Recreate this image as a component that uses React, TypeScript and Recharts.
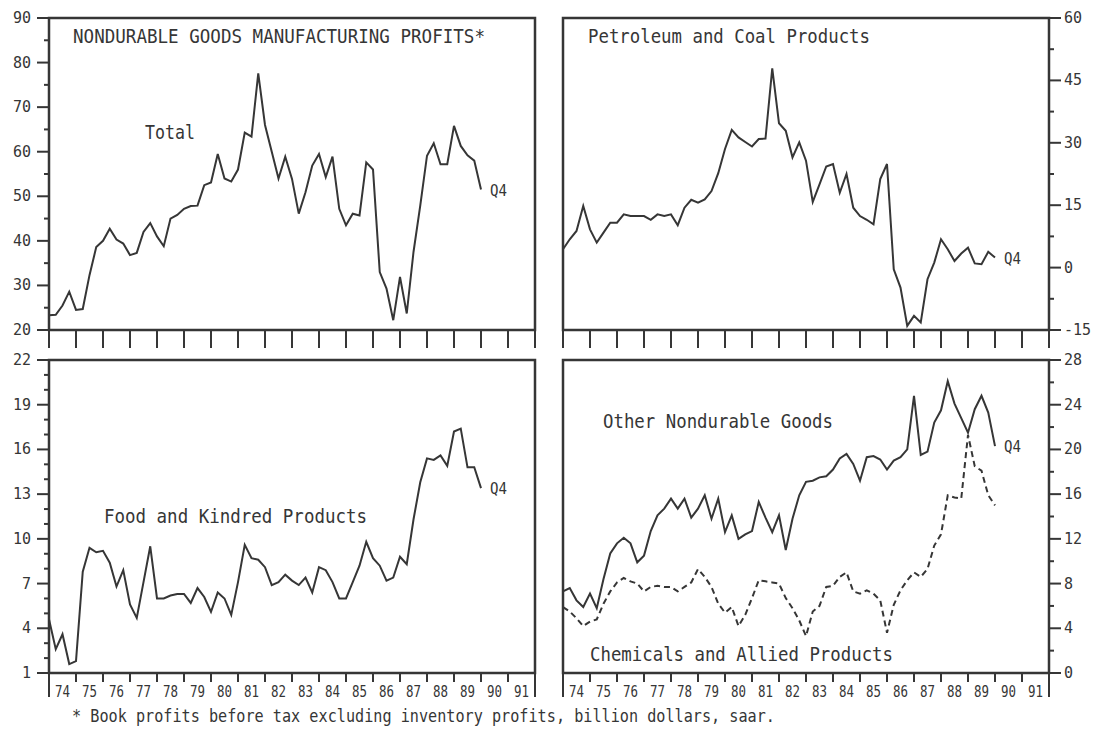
import { LineChart, Line, XAxis, YAxis, ReferenceArea } from 'recharts';

const INK = '#363636';
const FONT = '"DejaVu Sans Mono", monospace';

// quarter ends, 1973 Q4 through 1989 Q4 (74.0 = start of 1974)
const quarters = Array.from({ length: 65 }, (_, i) => 74 + i / 4);

const total = [
  23.3, 23.4, 25.5, 28.6, 24.5, 24.7, 32.3, 38.6, 40, 42.7,
  40.3, 39.4, 36.8, 37.3, 42, 44, 41, 38.8, 45, 45.8,
  47.2, 47.8, 47.9, 52.5, 53.1, 59.5, 54, 53.3, 56, 64.3,
  63.4, 77.6, 66, 60, 54, 58.9, 53.9, 46.1, 50.9, 56.9,
  59.5, 54.3, 58.9, 47.2, 43.5, 46.1, 45.7, 57.6, 56, 33,
  29.3, 22.2, 31.9, 23.7, 37.5, 47.9, 59.1, 61.9, 57.2, 57.2,
  65.8, 61.3, 59.2, 58, 51.5,
];

const petroleum = [
  4.4, 6.8, 8.8, 14.8, 9.2, 6.0, 8.4, 10.8, 10.8, 12.8,
  12.4, 12.4, 12.4, 11.5, 12.8, 12.4, 12.8, 10.2, 14.4, 16.3,
  15.6, 16.4, 18.4, 22.7, 28.5, 33.1, 31.3, 30.2, 29.1, 30.9,
  31.0, 47.9, 34.7, 32.9, 26.5, 30.1, 25.7, 15.8, 20.0, 24.3,
  24.9, 18.0, 22.5, 14.4, 12.4, 11.5, 10.4, 21.3, 24.9, -0.4,
  -4.8, -14, -11.6, -13.2, -2.8, 1.2, 6.8, 4.4, 1.6, 3.4,
  4.8, 1.0, 0.8, 3.8, 2.4,
];

const food = [
  4.6, 2.6, 3.6, 1.6, 1.8, 7.8, 9.4, 9.1, 9.2, 8.4,
  6.8, 7.9, 5.6, 4.7, 7.1, 9.5, 6.0, 6.0, 6.2, 6.3,
  6.3, 5.7, 6.7, 6.1, 5.1, 6.4, 6.0, 4.9, 7.1, 9.6,
  8.7, 8.6, 8.1, 6.9, 7.1, 7.6, 7.2, 6.9, 7.4, 6.4,
  8.1, 7.9, 7.1, 6.0, 6.0, 7.1, 8.2, 9.8, 8.7, 8.2,
  7.2, 7.4, 8.8, 8.3, 11.3, 13.8, 15.4, 15.3, 15.6, 14.9,
  17.2, 17.4, 14.8, 14.8, 13.4,
];

const other = [
  7.3, 7.6, 6.5, 5.9, 7.1, 5.8, 8.4, 10.7, 11.6, 12.1,
  11.6, 9.9, 10.5, 12.7, 14.1, 14.7, 15.6, 14.7, 15.6, 13.9,
  14.7, 15.9, 13.8, 15.6, 12.6, 14.1, 12.0, 12.4, 12.7, 15.3,
  13.9, 12.6, 14.1, 11.0, 13.8, 15.9, 17.1, 17.2, 17.5, 17.6,
  18.2, 19.2, 19.6, 18.7, 17.2, 19.3, 19.4, 19.1, 18.2, 19.0,
  19.3, 20.0, 24.8, 19.5, 19.8, 22.4, 23.5, 26.1, 24.1, 22.8,
  21.5, 23.6, 24.8, 23.3, 20.3,
];

const chemicals = [
  5.9, 5.5, 4.9, 4.2, 4.6, 4.8, 6.2, 7.3, 8.1, 8.5,
  8.2, 8.0, 7.3, 7.7, 7.8, 7.7, 7.7, 7.3, 7.7, 8.1,
  9.3, 8.6, 7.7, 6.2, 5.4, 5.9, 4.2, 5.2, 6.7, 8.3,
  8.2, 8.1, 8.0, 6.7, 5.8, 4.7, 3.3, 5.5, 6.0, 7.7,
  7.8, 8.6, 9.0, 7.3, 7.1, 7.4, 7.1, 6.5, 3.6, 6.1,
  7.4, 8.3, 9.0, 8.6, 9.3, 11.4, 12.4, 15.9, 15.7, 15.6,
  21.3, 18.5, 18.1, 15.9, 15.0,
];

const yearEdges = [74, 75, 76, 77, 78, 79, 80, 81, 82, 83, 84, 85, 86, 87, 88, 89, 90, 91, 92];
const yearTicks = yearEdges.flatMap((y) => (y < 92 ? [y, y + 0.5] : [y]));

const totalTicks = [20, 25, 30, 35, 40, 45, 50, 55, 60, 65, 70, 75, 80, 85, 90];
const totalLabels = [20, 30, 40, 50, 60, 70, 80, 90];
const petroTicks = [-15, -7.5, 0, 7.5, 15, 22.5, 30, 37.5, 45, 52.5, 60];
const petroLabels = [-15, 0, 15, 30, 45, 60];
const foodTicks = [1, 2, 3, 4, 5, 6, 7, 8, 9, 10, 11, 12, 13, 14, 15, 16, 17, 18, 19, 20, 21, 22];
const foodLabels = [1, 4, 7, 10, 13, 16, 19, 22];
const otherTicks = [0, 2, 4, 6, 8, 10, 12, 14, 16, 18, 20, 22, 24, 26, 28];
const otherLabels = [0, 4, 8, 12, 16, 20, 24, 28];

const topRows = quarters.map((x, i) => ({ x, total: total[i], petroleum: petroleum[i] }));
const bottomRows = quarters.map((x, i) => ({ x, food: food[i], other: other[i], chemicals: chemicals[i] }));
const LAST = quarters.length - 1;

const YTick = (props: any) => {
  const { x, y, payload, side, labels } = props;
  const major = labels.includes(payload.value);
  const dir = side === 'left' ? -1 : 1;
  return (
    <g>
      <line x1={x} y1={y} x2={x + dir * (major ? 12 : 5)} y2={y} stroke={INK} strokeWidth={2} />
      {major && (
        <text
          x={side === 'left' ? x - 18 : x + 15}
          y={y + 5}
          textAnchor={side === 'left' ? 'end' : 'start'}
          fontFamily={FONT}
          fontSize={15}
          fill={INK}
        >
          {payload.value}
        </text>
      )}
    </g>
  );
};

const EdgeTick = (props: any) => {
  const { x, y } = props;
  return <line x1={x} y1={y} x2={x} y2={y + 18} stroke={INK} strokeWidth={2} />;
};

const YearTick = (props: any) => {
  const { x, y, payload } = props;
  const v = payload.value;
  if (Number.isInteger(v)) {
    const end = v === 74 || v === 92;
    return <line x1={x} y1={y} x2={x} y2={y + (end ? 24 : 9)} stroke={INK} strokeWidth={2} />;
  }
  return (
    <text x={x} y={y + 24} textAnchor="middle" fontFamily={FONT} fontSize={16} textLength={15} lengthAdjust="spacingAndGlyphs" fill={INK}>
      {Math.floor(v)}
    </text>
  );
};

const q4Dot = (props: any) => {
  const { cx, cy, index } = props;
  if (index !== LAST) return <g key={`d-${index}`} />;
  return (
    <text key={`d-${index}`} x={cx + 9} y={cy + 6} fontFamily={FONT} fontSize={15} textLength={17} lengthAdjust="spacingAndGlyphs" fill={INK}>
      Q4
    </text>
  );
};

const axisCommon = { axisLine: false, tickLine: false, tickSize: 0, tickMargin: 0, interval: 0 as const };

const Label = ({ x, y, w, size = 20, children }: any) => (
  <text x={x} y={y} fontFamily={FONT} fontSize={size} textLength={w} lengthAdjust="spacingAndGlyphs" fill={INK}>
    {children}
  </text>
);

export default function App() {
  return (
    <div style={{ position: 'fixed', left: 0, top: 0, width: 1105, height: 733, background: '#fff' }}>
      <div style={{ position: 'absolute', left: 0, top: 0 }}>
        <LineChart width={545} height={352} data={topRows} margin={{ top: 18, right: 10, bottom: 0, left: 0 }}>
          <XAxis dataKey="x" type="number" domain={[74, 92]} ticks={yearEdges} height={22} tick={<EdgeTick />} {...axisCommon} />
          <YAxis type="number" domain={[20, 90]} ticks={totalTicks} width={49} tick={<YTick side="left" labels={totalLabels} />} {...axisCommon} />
          <ReferenceArea x1={74} x2={92} y1={20} y2={90} fill="none" stroke={INK} strokeWidth={2.5} />
          <Line dataKey="total" stroke={INK} strokeWidth={2} dot={q4Dot} isAnimationActive={false} />
        </LineChart>
      </div>
      <div style={{ position: 'absolute', left: 553, top: 0 }}>
        <LineChart width={552} height={352} data={topRows} margin={{ top: 18, right: 0, bottom: 0, left: 10 }}>
          <XAxis dataKey="x" type="number" domain={[74, 92]} ticks={yearEdges} height={22} tick={<EdgeTick />} {...axisCommon} />
          <YAxis orientation="right" type="number" domain={[-15, 60]} ticks={petroTicks} width={56} tick={<YTick side="right" labels={petroLabels} />} {...axisCommon} />
          <ReferenceArea x1={74} x2={92} y1={-15} y2={60} fill="none" stroke={INK} strokeWidth={2.5} />
          <Line dataKey="petroleum" stroke={INK} strokeWidth={2} dot={q4Dot} isAnimationActive={false} />
        </LineChart>
      </div>
      <div style={{ position: 'absolute', left: 0, top: 342 }}>
        <LineChart width={545} height={391} data={bottomRows} margin={{ top: 18, right: 10, bottom: 30, left: 0 }}>
          <XAxis dataKey="x" type="number" domain={[74, 92]} ticks={yearTicks} height={30} tick={<YearTick />} {...axisCommon} />
          <YAxis type="number" domain={[1, 22]} ticks={foodTicks} width={49} tick={<YTick side="left" labels={foodLabels} />} {...axisCommon} />
          <ReferenceArea x1={74} x2={92} y1={1} y2={22} fill="none" stroke={INK} strokeWidth={2.5} />
          <Line dataKey="food" stroke={INK} strokeWidth={2} dot={q4Dot} isAnimationActive={false} />
        </LineChart>
      </div>
      <div style={{ position: 'absolute', left: 553, top: 342 }}>
        <LineChart width={552} height={391} data={bottomRows} margin={{ top: 18, right: 0, bottom: 30, left: 10 }}>
          <XAxis dataKey="x" type="number" domain={[74, 92]} ticks={yearTicks} height={30} tick={<YearTick />} {...axisCommon} />
          <YAxis orientation="right" type="number" domain={[0, 28]} ticks={otherTicks} width={56} tick={<YTick side="right" labels={otherLabels} />} {...axisCommon} />
          <ReferenceArea x1={74} x2={92} y1={0} y2={28} fill="none" stroke={INK} strokeWidth={2.5} />
          <Line dataKey="other" stroke={INK} strokeWidth={2} dot={q4Dot} isAnimationActive={false} />
          <Line dataKey="chemicals" stroke={INK} strokeWidth={2} strokeDasharray="6 4" dot={false} isAnimationActive={false} />
        </LineChart>
      </div>
      <svg width={1105} height={733} style={{ position: 'absolute', left: 0, top: 0, pointerEvents: 'none' }}>
        <Label x={73} y={43} w={412}>NONDURABLE GOODS MANUFACTURING PROFITS*</Label>
        <Label x={588} y={43} w={282}>Petroleum and Coal Products</Label>
        <Label x={145} y={139} w={50}>Total</Label>
        <Label x={104} y={523} w={263}>Food and Kindred Products</Label>
        <Label x={603} y={428} w={230}>Other Nondurable Goods</Label>
        <Label x={590} y={661} w={303}>Chemicals and Allied Products</Label>
        <Label x={72} y={722} w={703} size={17}>* Book profits before tax excluding inventory profits, billion dollars, saar.</Label>
      </svg>
    </div>
  );
}
